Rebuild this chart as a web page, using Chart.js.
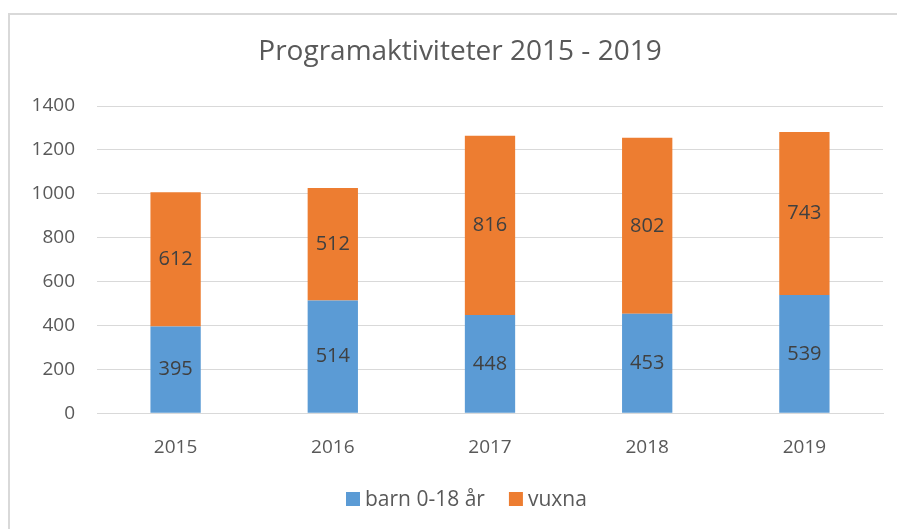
<!DOCTYPE html>
<html>
<head>
<meta charset="utf-8">
<script src="https://cdn.jsdelivr.net/npm/chart.js@4"></script>
<style>
  html, body { margin: 0; padding: 0; background: #fff; }
  #wrap { position: relative; width: 897px; height: 529px; overflow: hidden; }
  #frame { position: absolute; left: 8px; top: 13px; width: 1000px; height: 600px; border: 2px solid #d9d9d9; }
  canvas { position: absolute; left: 0; top: 0; }
</style>
</head>
<body>
<div id="wrap">
  <div id="frame"></div>
  <canvas id="g1" width="897" height="529"></canvas>
</div>
<script>
var years = ["2015", "2016", "2017", "2018", "2019"];
var barn = [395, 514, 448, 453, 539];
var vuxna = [612, 512, 816, 802, 743];
var yTicks = [0, 200, 400, 600, 800, 1000, 1200, 1400];
var chartTitle = 'Programaktiviteter 2015 - 2019';

var textGray = "#595959";
var font = "'Open Sans', sans-serif";

// values written in the middle of each bar segment
var barLabels = {
  id: 'barLabels',
  afterDatasetsDraw: function(chart) {
    var ctx = chart.ctx;
    ctx.save();
    ctx.font = "20px " + font;
    ctx.fillStyle = "#404040";
    ctx.textAlign = "center";
    ctx.textBaseline = "middle";
    chart.data.datasets.forEach(function(ds, i) {
      chart.getDatasetMeta(i).data.forEach(function(bar, j) {
        var mid = (bar.y + bar.base) / 2;
        ctx.fillText(ds.data[j], bar.x, mid);
      });
    });
    ctx.restore();
  }
};

// title and legend are centred on the whole (wider) frame, not on the canvas
var frameText = {
  id: 'frameText',
  afterDraw: function(chart) {
    var ctx = chart.ctx;
    ctx.save();
    ctx.fillStyle = textGray;
    ctx.textBaseline = "middle";
    ctx.textAlign = "center";
    ctx.font = "28px " + font;
    ctx.fillText(chartTitle, 460, 52);

    ctx.textAlign = "left";
    ctx.font = "21px " + font;
    var x = 346, y = 499;
    chart.data.datasets.forEach(function(ds) {
      ctx.fillStyle = ds.backgroundColor;
      ctx.fillRect(x, y - 7, 14, 14);
      ctx.fillStyle = textGray;
      ctx.fillText(ds.label, x + 19, y + 1);
      x += 19 + ctx.measureText(ds.label).width + 24;
    });
    ctx.restore();
  }
};

var g1 = document.getElementById("g1").getContext('2d');
var myG1 = new Chart(g1, {
  type: 'bar',
  data: {
    labels: years,
    datasets: [{
      label: 'barn 0-18 år',
      data: barn,
      backgroundColor: "#5b9bd5"
    }, {
      label: 'vuxna',
      data: vuxna,
      backgroundColor: "#ed7d31"
    }]
  },
  options: {
    responsive: false,
    animation: false,
    layout: { padding: { left: 0, right: 14, top: 106, bottom: 47 } },
    datasets: { bar: { categoryPercentage: 1, barPercentage: 0.32 } },
    plugins: {
      title: { display: false },
      legend: { display: false },
      tooltip: { enabled: false }
    },
    scales: {
      x: {
        stacked: true,
        grid: { display: false, drawTicks: false },
        border: { color: "#d9d9d9", width: 1 },
        ticks: { color: textGray, font: { family: font, size: 19 }, padding: 23 }
      },
      y: {
        stacked: true,
        min: 0,
        max: 1400,
        afterBuildTicks: function(axis) {
          axis.ticks = yTicks.map(function(v) { return { value: v }; });
        },
        afterFit: function(axis) { axis.width = 97; },
        grid: { color: "#d9d9d9", drawTicks: false },
        border: { display: false },
        ticks: {
          color: textGray,
          font: { family: font, size: 19 },
          padding: 22,
          callback: function(v) { return String(v); }
        }
      }
    }
  },
  plugins: [barLabels, frameText]
});
</script>
</body>
</html>
